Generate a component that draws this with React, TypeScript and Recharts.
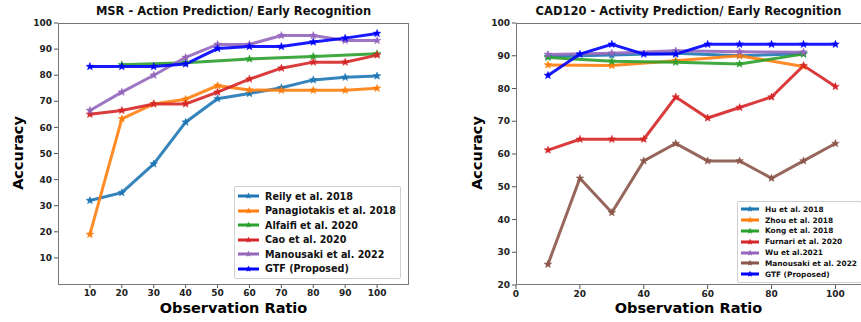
import React from "react";
import { LineChart, Line, XAxis, YAxis } from "recharts";

// ---- MSR (left) ----
const msrRatios = [10, 20, 30, 40, 50, 60, 70, 80, 90, 100];
const msrReily = [32, 35, 46, 62, 71, 73, 75.2, 78.2, 79.2, 79.7];
const msrPanagiotakis = [19, 63.3, 69, 70.8, 76, 74.3, 74.2, 74.2, 74.2, 75];
const msrAlfaifi = [null, 84, null, 84.8, null, 86.2, null, 87.2, null, 88.2];
const msrCao = [65, 66.5, 69, 69, 73.5, 78.5, 82.7, 85, 85, 87.7];
const msrManousaki = [66.5, 73.5, 80, 86.8, 91.8, 91.8, 95.2, 95.2, 93.3, 93.3];
const msrGtf = [83.3, 83.3, 83.3, 84.3, 90.2, 91, 91, 92.7, 94.2, 96];
const msrXTicks = [10, 20, 30, 40, 50, 60, 70, 80, 90, 100];
const msrYTicks = [10, 20, 30, 40, 50, 60, 70, 80, 90, 100];

// ---- CAD120 (right) ----
const cadRatios = [10, 20, 30, 40, 50, 60, 70, 80, 90, 100];
const cadHu = [89.8, null, 90.2, null, 90.8, null, 90.0, null, 90.6, null];
const cadZhou = [87.2, null, 87.0, null, 88.5, null, 90.0, null, 86.7, null];
const cadKong = [89.5, null, 88.3, null, 88.0, null, 87.5, null, 90.5, null];
const cadFurnari = [61.2, 64.5, 64.5, 64.5, 77.4, 71, 74.2, 77.4, 87, 80.6];
const cadWu = [90.4, null, 90.8, null, 91.5, null, 91.2, null, 91.1, null];
const cadManousaki = [26.3, 52.6, 42.1, 57.9, 63.2, 57.9, 57.9, 52.6, 57.9, 63.2];
const cadGtf = [84, 90.5, 93.5, 90.5, 90.5, 93.5, 93.5, 93.5, 93.5, 93.5];
const cadXTicks = [0, 20, 40, 60, 80, 100];
const cadYTicks = [20, 30, 40, 50, 60, 70, 80, 90, 100];

const msrSeries = [
  { key: "reily", name: "Reily et al. 2018", color: "#1f77b4", values: msrReily },
  { key: "pana", name: "Panagiotakis et al. 2018", color: "#ff7f0e", values: msrPanagiotakis },
  { key: "alfaifi", name: "Alfaifi et al. 2020", color: "#2ca02c", values: msrAlfaifi },
  { key: "cao", name: "Cao et al. 2020", color: "#d62728", values: msrCao },
  { key: "manousaki", name: "Manousaki et al. 2022", color: "#9467bd", values: msrManousaki },
  { key: "gtf", name: "GTF (Proposed)", color: "#0000ff", values: msrGtf },
];

const cadSeries = [
  { key: "hu", name: "Hu et al. 2018", color: "#1f77b4", values: cadHu },
  { key: "zhou", name: "Zhou et al. 2018", color: "#ff7f0e", values: cadZhou },
  { key: "kong", name: "Kong et al. 2018", color: "#2ca02c", values: cadKong },
  { key: "furnari", name: "Furnari et al. 2020", color: "#d62728", values: cadFurnari },
  { key: "wu", name: "Wu et al.2021", color: "#9467bd", values: cadWu },
  { key: "manousaki", name: "Manousaki et al. 2022", color: "#8c564b", values: cadManousaki },
  { key: "gtf", name: "GTF (Proposed)", color: "#0000ff", values: cadGtf },
];

type Series = { key: string; name: string; color: string; values: (number | null)[] };

function buildRows(xs: number[], series: Series[]) {
  return xs.map((x, i) => {
    const row: Record<string, number | null> = { x };
    series.forEach((s) => (row[s.key] = s.values[i]));
    return row;
  });
}

function starPoints(cx: number, cy: number, r: number) {
  const pts: string[] = [];
  for (let i = 0; i < 10; i++) {
    const rad = i % 2 === 0 ? r : r * 0.42;
    const a = -Math.PI / 2 + (i * Math.PI) / 5;
    pts.push(`${cx + rad * Math.cos(a)},${cy + rad * Math.sin(a)}`);
  }
  return pts.join(" ");
}

// matplotlib-ish '*' marker
const starDot = (color: string) => (props: any) => {
  const { cx, cy, index, value } = props;
  if (cx == null || cy == null || value == null || (Array.isArray(value) && value[1] == null))
    return <g key={`s-${index}`} />;
  return <polygon key={`s-${index}`} points={starPoints(cx, cy, 4)} fill={color} stroke={color} strokeWidth={0.5} />;
};

const FONT = "'DejaVu Sans', sans-serif";
const tickStyle = { fontSize: 9, fontWeight: "bold" as const, fill: "#222", fontFamily: FONT };

function Legend({ series, left, top, fontSize, rowH, lineW }: any) {
  return (
    <div
      style={{
        position: "absolute",
        left,
        top,
        background: "rgba(255,255,255,0.9)",
        border: "1px solid #d0d0d0",
        borderRadius: 2,
        padding: "2px 4px 2px 3px",
        fontFamily: FONT,
        fontWeight: "bold",
        fontSize,
        color: "#111",
        whiteSpace: "nowrap",
      }}
    >
      {series.map((s: Series) => (
        <div key={s.key} style={{ display: "flex", alignItems: "center", height: rowH }}>
          <svg width={lineW} height={8} style={{ marginRight: 6 }}>
            <line x1={0} y1={4} x2={lineW} y2={4} stroke={s.color} strokeWidth={3} />
            <polygon points={starPoints(lineW / 2, 4, 3.5)} fill={s.color} />
          </svg>
          <span>{s.name}</span>
        </div>
      ))}
    </div>
  );
}

export default function App() {
  const msrRows = buildRows(msrRatios, msrSeries);
  const cadRows = buildRows(cadRatios, cadSeries);
  return (
    <div style={{ position: "absolute", left: 0, top: 0, width: 861, height: 322, background: "#fff", overflow: "hidden", fontFamily: FONT }}>
      {/* left panel */}
      <div style={{ position: "absolute", left: 0, top: 0 }}>
        <LineChart width={430} height={322} data={msrRows} margin={{ top: 23, right: 21, bottom: 18, left: 18 }}>
          <XAxis dataKey="x" type="number" domain={[0, 110]} ticks={msrXTicks} tick={tickStyle} tickSize={4} height={20} axisLine={false} tickLine={{ stroke: "#555" }} />
          <YAxis type="number" domain={[0, 100]} ticks={msrYTicks} tick={tickStyle} tickSize={4} width={40} axisLine={false} tickLine={{ stroke: "#555" }} />
          {msrSeries.map((s) => (
            <Line key={s.key} dataKey={s.key} type="linear" stroke={s.color} strokeWidth={3} strokeOpacity={0.9} connectNulls dot={starDot(s.color)} activeDot={false} isAnimationActive={false} />
          ))}
        </LineChart>
      </div>
      <div style={{ position: "absolute", left: 58, top: 23, width: 351, height: 262, border: "1.2px solid #777", boxSizing: "border-box" }} />
      <div style={{ position: "absolute", left: 58, width: 351, top: 4, textAlign: "center", fontSize: 11.5, fontWeight: "bold", color: "#111" }}>
        MSR - Action Prediction/ Early Recognition
      </div>
      <div style={{ position: "absolute", left: 58, width: 351, top: 300, textAlign: "center", fontSize: 14.5, fontWeight: "bold", color: "#000" }}>
        Observation Ratio
      </div>
      <div style={{ position: "absolute", left: 18, top: 153, transform: "translate(-50%,-50%) rotate(-90deg)", fontSize: 14.5, fontWeight: "bold", color: "#000", whiteSpace: "nowrap" }}>
        Accuracy
      </div>
      <Legend series={msrSeries} left={234} top={186} fontSize={9.6} rowH={14.5} lineW={21} />

      {/* right panel */}
      <div style={{ position: "absolute", left: 430, top: 0 }}>
        <LineChart width={431} height={322} data={cadRows} margin={{ top: 23, right: 0, bottom: 17, left: 46 }}>
          <XAxis dataKey="x" type="number" domain={[0, 108]} ticks={cadXTicks} tick={tickStyle} tickSize={4} height={20} axisLine={false} tickLine={{ stroke: "#555" }} />
          <YAxis type="number" domain={[20, 100]} ticks={cadYTicks} tick={tickStyle} tickSize={4} width={40} axisLine={false} tickLine={{ stroke: "#555" }} />
          {cadSeries.map((s) => (
            <Line key={s.key} dataKey={s.key} type="linear" stroke={s.color} strokeWidth={3} strokeOpacity={0.9} connectNulls dot={starDot(s.color)} activeDot={false} isAnimationActive={false} />
          ))}
        </LineChart>
      </div>
      <div style={{ position: "absolute", left: 516, top: 23, width: 360, height: 262, border: "1.2px solid #777", boxSizing: "border-box" }} />
      <div style={{ position: "absolute", left: 516, width: 345, top: 4, textAlign: "center", fontSize: 11.5, fontWeight: "bold", color: "#111" }}>
        CAD120 - Activity Prediction/ Early Recognition
      </div>
      <div style={{ position: "absolute", left: 516, width: 345, top: 300, textAlign: "center", fontSize: 14.5, fontWeight: "bold", color: "#000" }}>
        Observation Ratio
      </div>
      <div style={{ position: "absolute", left: 477, top: 153, transform: "translate(-50%,-50%) rotate(-90deg)", fontSize: 14.5, fontWeight: "bold", color: "#000", whiteSpace: "nowrap" }}>
        Accuracy
      </div>
      <Legend series={cadSeries} left={737} top={201} fontSize={7.4} rowH={10.8} lineW={18} />
    </div>
  );
}
